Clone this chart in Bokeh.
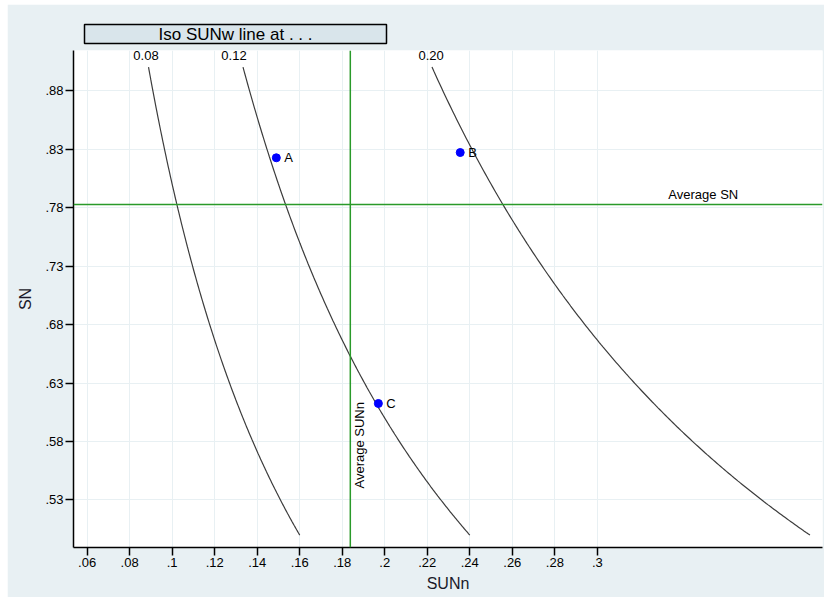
import numpy as np
from bokeh.plotting import figure
from bokeh.models import Span, Label, FixedTicker, ColumnDataSource, Range1d, Title
from bokeh.embed import file_html
from bokeh.resources import INLINE
from bokeh.core.properties import value

# ---- data ----
iso_levels = [0.08, 0.12, 0.20]          # SUNw = SUNn * SN
iso_labels = ["0.08", "0.12", "0.20"]
iso_label_x = [0.0877, 0.1291, 0.2218]
sn_min, sn_max = 0.50, 0.90

pt_names = ["A", "B", "C"]
pt_sunn = [0.149, 0.2355, 0.197]
pt_sn = [0.8225, 0.827, 0.6125]

avg_sn = 0.7825
avg_sunn = 0.1838

x_ticks = [0.06, 0.08, 0.10, 0.12, 0.14, 0.16, 0.18, 0.20, 0.22, 0.24, 0.26, 0.28, 0.30]
x_tick_labels = [".06", ".08", ".1", ".12", ".14", ".16", ".18", ".2", ".22", ".24", ".26", ".28", ".3"]
y_ticks = [0.53, 0.58, 0.63, 0.68, 0.73, 0.78, 0.83, 0.88]
y_tick_labels = [".53", ".58", ".63", ".68", ".73", ".78", ".83", ".88"]

FONT = "Liberation Sans"
BG = "#E8F0F3"
GREEN = "#2A9A2A"

p = figure(width=817, height=593, output_backend="svg", toolbar_location=None,
           x_range=Range1d(0.0536, 0.4059), y_range=Range1d(0.4894, 0.9142),
           min_border_left=66, min_border_right=2, min_border_top=46, min_border_bottom=50,
           margin=(4, 0, 0, 7))
p.border_fill_color = BG
p.background_fill_color = "white"
p.outline_line_color = None

# header box
p.add_layout(Title(text="Iso SUNw line at . . .", align="left", offset=11, standoff=14,
                   text_font=FONT, text_font_size="17px", text_font_style="normal",
                   text_color="black", background_fill_color="#D9E5EB",
                   border_line_color="black", border_line_width=1.5, padding=(74, 0)), "above")

# axes
for ax in (p.xaxis[0], p.yaxis[0]):
    ax.axis_line_color = "black"
    ax.axis_line_width = 1.5
    ax.major_tick_line_color = "black"
    ax.major_tick_line_width = 1.5
    ax.major_tick_out = 8
    ax.major_tick_in = 0
    ax.minor_tick_line_color = None
    ax.major_label_text_font = FONT
    ax.major_label_text_font_size = "13px"
    ax.major_label_text_color = "black"
    ax.major_label_standoff = 2
    ax.axis_label_text_font = FONT
    ax.axis_label_text_font_size = "16px"
    ax.axis_label_text_font_style = "normal"
    ax.axis_label_text_color = "#1a1a2a"

p.xaxis.ticker = FixedTicker(ticks=x_ticks)
p.yaxis.ticker = FixedTicker(ticks=y_ticks)
p.xaxis.major_label_overrides = {t: l for t, l in zip(x_ticks, x_tick_labels)}
p.yaxis.major_label_overrides = {t: l for t, l in zip(y_ticks, y_tick_labels)}
p.xaxis.axis_label = "SUNn"
p.yaxis.axis_label = "SN"
p.xaxis.axis_label_standoff = 5
p.yaxis.axis_label_standoff = 8

p.xgrid.grid_line_color = BG
p.ygrid.grid_line_color = BG
p.xgrid.grid_line_width = 1
p.ygrid.grid_line_width = 1

# average lines
p.add_layout(Span(location=avg_sn, dimension="width", line_color=GREEN, line_width=1.5))
p.add_layout(Span(location=avg_sunn, dimension="height", line_color=GREEN, line_width=1.5))

# iso curves: SN = SUNw / SUNn
for lvl in iso_levels:
    xs = np.linspace(lvl / sn_max, lvl / sn_min, 200)
    p.line(xs, lvl / xs, line_color="#3c3c3c", line_width=1.2)

p.text(x=iso_label_x, y=[0.9099] * 3, text=iso_labels, text_align="center",
       text_baseline="middle", text_font=value(FONT), text_font_size="13px", text_color="black")

# points
src = ColumnDataSource(dict(x=pt_sunn, y=pt_sn, t=pt_names))
p.scatter("x", "y", source=src, size=8, color="#0000FF")
p.text("x", "y", text="t", source=src, x_offset=8, text_align="left", text_baseline="middle",
       text_font=value(FONT), text_font_size="13px", text_color="black")

# line labels
p.add_layout(Label(x=0.3334, y=avg_sn, y_offset=3, text="Average SN", text_align="left",
                   text_baseline="bottom", text_font=FONT, text_font_size="13px", text_color="black"))
p.add_layout(Label(x=avg_sunn, y=0.5398, x_offset=2, text="Average SUNn", angle=np.pi / 2,
                   text_align="left", text_baseline="top", text_font=FONT,
                   text_font_size="13px", text_color="black"))

open("out.html", "w").write(file_html(p, INLINE))
